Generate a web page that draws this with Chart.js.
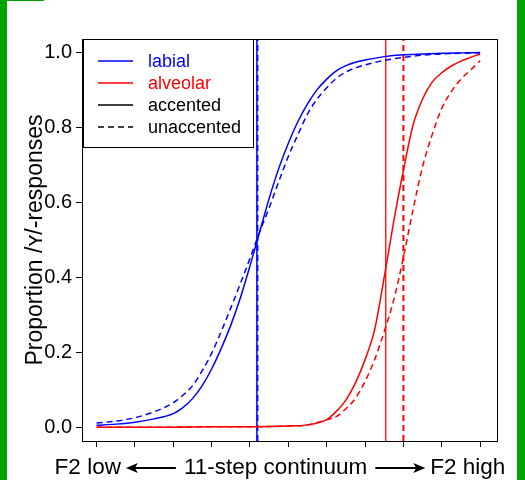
<!DOCTYPE html>
<html>
<head>
<meta charset="utf-8">
<script src="https://cdn.jsdelivr.net/npm/chart.js@4/dist/chart.umd.min.js"></script>
<style>
  html, body { margin: 0; padding: 0; background: #fff; }
  canvas { display: block; }
</style>
</head>
<body>
<canvas id="chart" width="525" height="480"></canvas>
<script>
const labialSteps = [1, 1.5, 2, 2.5, 3, 3.25, 3.5, 3.75, 4, 4.25, 4.5, 4.75, 5, 5.25, 5.5, 5.75, 6, 6.25, 6.5, 6.75, 7, 7.25, 7.5, 7.75, 8, 8.5, 9, 9.5, 10, 10.5, 11];
const labialAccented   = [0.005, 0.008, 0.013, 0.022, 0.036, 0.052, 0.076, 0.11, 0.155, 0.21, 0.272, 0.345, 0.43, 0.52, 0.61, 0.69, 0.757, 0.815, 0.862, 0.90, 0.928, 0.95, 0.964, 0.973, 0.979, 0.988, 0.993, 0.995, 0.997, 0.998, 0.999];
const labialUnaccented = [0.011, 0.016, 0.025, 0.041, 0.065, 0.085, 0.11, 0.15, 0.197, 0.255, 0.318, 0.383, 0.45, 0.52, 0.585, 0.655, 0.722, 0.78, 0.835, 0.875, 0.905, 0.93, 0.947, 0.958, 0.966, 0.978, 0.986, 0.992, 0.995, 0.997, 0.998];

const alveolarSteps = [1, 2, 3, 4, 5, 6, 6.5, 7, 7.25, 7.5, 7.75, 8, 8.25, 8.5, 8.75, 9, 9.25, 9.5, 9.75, 10, 10.25, 10.5, 10.75, 11];
const alveolarAccented   = [0, 0, 0, 0.001, 0.001, 0.003, 0.006, 0.02, 0.042, 0.072, 0.118, 0.18, 0.26, 0.40, 0.55, 0.685, 0.805, 0.875, 0.92, 0.945, 0.963, 0.976, 0.986, 0.995];
const alveolarUnaccented = [0, 0, 0, 0.001, 0.001, 0.003, 0.006, 0.02, 0.028, 0.049, 0.077, 0.122, 0.18, 0.255, 0.34, 0.453, 0.58, 0.695, 0.78, 0.85, 0.895, 0.928, 0.952, 0.977];

// category boundaries (vertical lines)
const boundaryLabialAcc = 5.18;
const boundaryLabialUnacc = 5.2;
const boundaryAlveolarAcc = 8.54;
const boundaryAlveolarUnacc = 9.0;

const xTicks = [1, 2, 3, 4, 5, 6, 7, 8, 9, 10, 11];
const yTicks = [0, 0.2, 0.4, 0.6, 0.8, 1.0];
const xMin = 0.62, xMax = 11.44;
const yMin = -0.037, yMax = 1.035;

const BLUE = '#0000ff';
const RED = '#ff0000';
const FONT = '"Liberation Sans", Arial, sans-serif';
const DASH = [6, 4];

const toPoints = (xs, ys) => xs.map((x, i) => ({ x: x, y: ys[i] }));
const vline = x => [{ x: x, y: yMin }, { x: x, y: yMax }];

function curve(data, color, dashed) {
    return {
        data: data,
        borderColor: color,
        borderWidth: 1.5,
        borderDash: dashed ? DASH : [],
        pointRadius: 0,
        cubicInterpolationMode: 'monotone',
        fill: false
    };
}

function boundary(x, color, dashed, width) {
    return {
        data: vline(x),
        borderColor: color,
        borderWidth: width,
        borderDash: dashed ? DASH : [],
        pointRadius: 0,
        tension: 0,
        fill: false
    };
}

const frame = {
    id: 'frame',
    beforeDraw(chart) {
        const ctx = chart.ctx;
        ctx.save();
        ctx.fillStyle = '#fff';
        ctx.fillRect(0, 0, chart.width, chart.height);
        ctx.fillStyle = '#00a300';
        ctx.fillRect(0, 0, 7, chart.height);
        ctx.fillRect(517, 0, 8, chart.height);
        ctx.fillRect(0, 0, 44, 1);
        ctx.restore();
    },
    afterDatasetsDraw(chart) {
        const ctx = chart.ctx;
        const a = chart.chartArea;
        ctx.save();
        // legend
        ctx.fillStyle = '#fff';
        ctx.fillRect(83, 39, 170, 108);
        ctx.strokeStyle = '#000';
        ctx.lineWidth = 1;
        ctx.strokeRect(83.5, 39.5, 170, 108);
        const items = [
            { text: 'labial', color: BLUE, dash: [] },
            { text: 'alveolar', color: RED, dash: [] },
            { text: 'accented', color: '#000', dash: [] },
            { text: 'unaccented', color: '#000', dash: DASH }
        ];
        ctx.font = '18px ' + FONT;
        ctx.textBaseline = 'middle';
        items.forEach((it, i) => {
            const y = 61 + i * 22;
            ctx.beginPath();
            ctx.setLineDash(it.dash);
            ctx.strokeStyle = it.color;
            ctx.lineWidth = 1.5;
            ctx.moveTo(98, y);
            ctx.lineTo(133, y);
            ctx.stroke();
            ctx.setLineDash([]);
            ctx.fillStyle = it.color;
            ctx.fillText(it.text, 148, y + 1);
        });
        // plot box
        ctx.strokeStyle = '#000';
        ctx.lineWidth = 1;
        ctx.strokeRect(a.left + 0.5, a.top + 0.5, a.right - a.left, a.bottom - a.top);

        // x axis title with long arrows
        const parts = ['F2 low', '11-step continuum', 'F2 high'];
        ctx.font = '22.5px ' + FONT;
        ctx.fillStyle = '#000';
        ctx.textBaseline = 'alphabetic';
        const w = parts.map(p => ctx.measureText(p).width);
        const arrowLen = 50, g1 = 5, g2 = 8;
        const total = w[0] + w[1] + w[2] + 2 * arrowLen + 2 * (g1 + g2);
        let x = 280 - total / 2;
        const base = 474, ay = 468;
        ctx.fillText(parts[0], x, base);
        x += w[0] + g1;
        drawArrow(ctx, x + arrowLen, x, ay);
        x += arrowLen + g2;
        ctx.fillText(parts[1], x, base);
        x += w[1] + g2;
        drawArrow(ctx, x, x + arrowLen, ay);
        x += arrowLen + g1;
        ctx.fillText(parts[2], x, base);
        ctx.restore();
    }
};

function drawArrow(ctx, from, to, y) {
    const dir = Math.sign(to - from);
    ctx.beginPath();
    ctx.strokeStyle = '#000';
    ctx.lineWidth = 2;
    ctx.moveTo(from, y);
    ctx.lineTo(to - dir * 6, y);
    ctx.stroke();
    ctx.beginPath();
    ctx.fillStyle = '#000';
    ctx.moveTo(to, y);
    ctx.lineTo(to - dir * 12, y - 5);
    ctx.lineTo(to - dir * 9, y);
    ctx.lineTo(to - dir * 12, y + 5);
    ctx.closePath();
    ctx.fill();
}

new Chart(document.getElementById('chart').getContext('2d'), {
    type: 'line',
    data: {
        datasets: [
            curve(toPoints(labialSteps, labialAccented), BLUE, false),
            curve(toPoints(labialSteps, labialUnaccented), BLUE, true),
            curve(toPoints(alveolarSteps, alveolarAccented), RED, false),
            curve(toPoints(alveolarSteps, alveolarUnaccented), RED, true),
            boundary(boundaryLabialAcc, BLUE, false, 1.5),
            boundary(boundaryLabialUnacc, BLUE, true, 1.5),
            boundary(boundaryAlveolarAcc, RED, false, 1.3),
            boundary(boundaryAlveolarUnacc, RED, true, 2)
        ]
    },
    options: {
        responsive: false,
        animation: false,
        devicePixelRatio: 1,
        layout: { padding: { top: 39, right: 28, left: 0, bottom: 0 } },
        plugins: {
            legend: { display: false },
            tooltip: { enabled: false }
        },
        scales: {
            x: {
                type: 'linear',
                min: xMin,
                max: xMax,
                afterBuildTicks: s => { s.ticks = xTicks.map(v => ({ value: v })); },
                afterFit: s => { s.height = 39; },
                border: { display: false },
                grid: { drawOnChartArea: false, drawTicks: true, tickLength: 6, color: '#000', tickColor: '#000' },
                ticks: { display: false }
            },
            y: {
                type: 'linear',
                min: yMin,
                max: yMax,
                afterBuildTicks: s => { s.ticks = yTicks.map(v => ({ value: v })); },
                afterFit: s => { s.width = 82; },
                border: { display: false },
                grid: { drawOnChartArea: false, drawTicks: true, tickLength: 6, color: '#000', tickColor: '#000' },
                ticks: {
                    color: '#000',
                    padding: 4,
                    font: { family: FONT, size: 20 },
                    callback: v => Number(v).toFixed(1)
                },
                title: {
                    display: true,
                    text: 'Proportion /ʏ/-responses',
                    color: '#000',
                    font: { family: FONT, size: 23 },
                    align: 'center',
                    padding: { top: 22, bottom: 0 }
                }
            }
        }
    },
    plugins: [frame]
});
</script>
</body>
</html>
